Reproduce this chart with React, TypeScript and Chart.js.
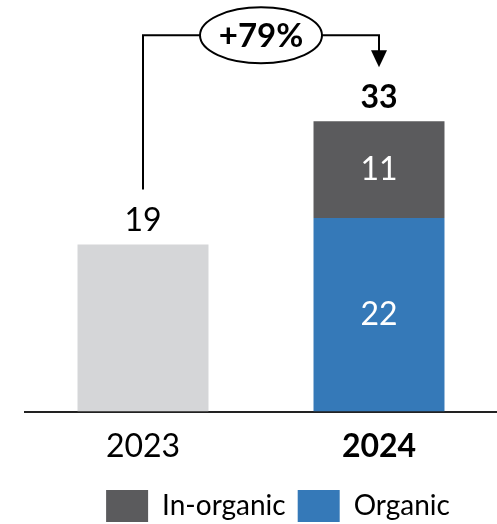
import React, { useEffect, useRef } from "react";
import { Chart, registerables } from "chart.js";

Chart.register(...registerables);

const categories = ["2023", "2024"];
const base2023 = [19, null];
const organic = [null, 22];
const inorganic = [null, 11];
const totals = [19, 33];
const growthLabel = "+79%";

const FONT = "Lato, 'Open Sans', sans-serif";

const LEGEND_SHIFT_X = 17;
const LEGEND_SHIFT_Y = 4;

const legendShift = {
  id: "legendShift",
  afterLayout(chart: any) {
    const lg = chart.legend;
    if (!lg) return;
    lg.left += LEGEND_SHIFT_X;
    lg.right += LEGEND_SHIFT_X;
    lg.top += LEGEND_SHIFT_Y;
    lg.bottom += LEGEND_SHIFT_Y;
  },
};

const labelsPlugin = {
  id: "customLabels",
  afterDatasetsDraw(chart: any) {
    const ctx = chart.ctx;
    const xs = chart.scales.x;
    const ys = chart.scales.y;
    ctx.save();
    ctx.textAlign = "center";
    ctx.textBaseline = "middle";
    // totals
    totals.forEach((t, i) => {
      const x = xs.getPixelForValue(i);
      const y = ys.getPixelForValue(t);
      ctx.fillStyle = "#000";
      ctx.font = (i === 1 ? "bold " : "") + "32px " + FONT;
      ctx.fillText(String(t), x, y - 24);
    });
    // segment labels
    [organic, inorganic].forEach((arr, k) => {
      arr.forEach((v, i) => {
        if (v == null) return;
        const x = xs.getPixelForValue(i);
        const lo = k === 0 ? 0 : (organic[i] as number);
        const yTop = ys.getPixelForValue(lo + v);
        const yBot = ys.getPixelForValue(lo);
        ctx.fillStyle = "#fff";
        ctx.font = "32px " + FONT;
        ctx.fillText(String(v), x, (yTop + yBot) / 2);
      });
    });
    // growth annotation
    const x0 = xs.getPixelForValue(0);
    const x1 = xs.getPixelForValue(1);
    const yA = ys.getPixelForValue(totals[0]) - 55;
    const yH = ys.getPixelForValue(totals[1]) - 86;
    const yTip = ys.getPixelForValue(totals[1]) - 54;
    const cx = (x0 + x1) / 2;
    const rx = 61, ry = 28;
    ctx.strokeStyle = "#000";
    ctx.lineWidth = 2;
    ctx.beginPath();
    ctx.moveTo(x0, yA);
    ctx.lineTo(x0, yH);
    ctx.lineTo(cx - rx, yH);
    ctx.moveTo(cx + rx, yH);
    ctx.lineTo(x1, yH);
    ctx.lineTo(x1, yTip - 16);
    ctx.stroke();
    ctx.fillStyle = "#000";
    ctx.beginPath();
    ctx.moveTo(x1 - 8, yTip - 17);
    ctx.lineTo(x1 + 8, yTip - 17);
    ctx.lineTo(x1, yTip);
    ctx.closePath();
    ctx.fill();
    ctx.beginPath();
    ctx.ellipse(cx, yH, rx, ry, 0, 0, Math.PI * 2);
    ctx.fillStyle = "#fff";
    ctx.fill();
    ctx.stroke();
    ctx.fillStyle = "#000";
    ctx.font = "bold 33px " + FONT;
    ctx.fillText(growthLabel, cx, yH + 1);
    ctx.restore();
  },
};

export default function App() {
  const ref = useRef<HTMLCanvasElement>(null);
  useEffect(() => {
    const chart = new Chart(ref.current as HTMLCanvasElement, {
      type: "bar",
      data: {
        labels: categories,
        datasets: [
          { label: "2023", data: base2023 as any, backgroundColor: "#D5D6D8" },
          { label: "Organic", data: organic as any, backgroundColor: "#3579B8" },
          { label: "In-organic", data: inorganic as any, backgroundColor: "#5B5B5D" },
        ],
      },
      options: {
        animation: false,
        responsive: false,
        layout: { padding: { left: 25, right: 0, top: 0, bottom: -4 } },
        datasets: { bar: { categoryPercentage: 1, barPercentage: 0.555 } } as any,
        plugins: {
          tooltip: { enabled: false },
          legend: {
            position: "bottom",
            labels: {
              boxWidth: 42,
              boxHeight: 32,
              padding: 12,
              color: "#000",
              font: { size: 28, family: FONT },
              filter: (item: any) => item.text !== "2023",
              sort: (a: any, b: any) => b.datasetIndex - a.datasetIndex,
            },
          },
        },
        scales: {
          x: {
            stacked: true,
            grid: { display: false },
            border: { display: true, color: "#222", width: 2 },
            ticks: {
              color: "#000",
              padding: 8,
              font: (c: any) => ({ size: 32, family: FONT, weight: c.index === 1 ? "bold" : "normal" }),
            },
          },
          y: {
            stacked: true,
            display: false,
            min: 0,
            max: 46.8,
          },
        },
      },
      plugins: [labelsPlugin, legendShift],
    });
    return () => chart.destroy();
  }, []);
  return (
    <div style={{ position: "absolute", left: 0, top: 0, width: 497, height: 524 }}>
      <canvas ref={ref} width={497} height={524} />
    </div>
  );
}
